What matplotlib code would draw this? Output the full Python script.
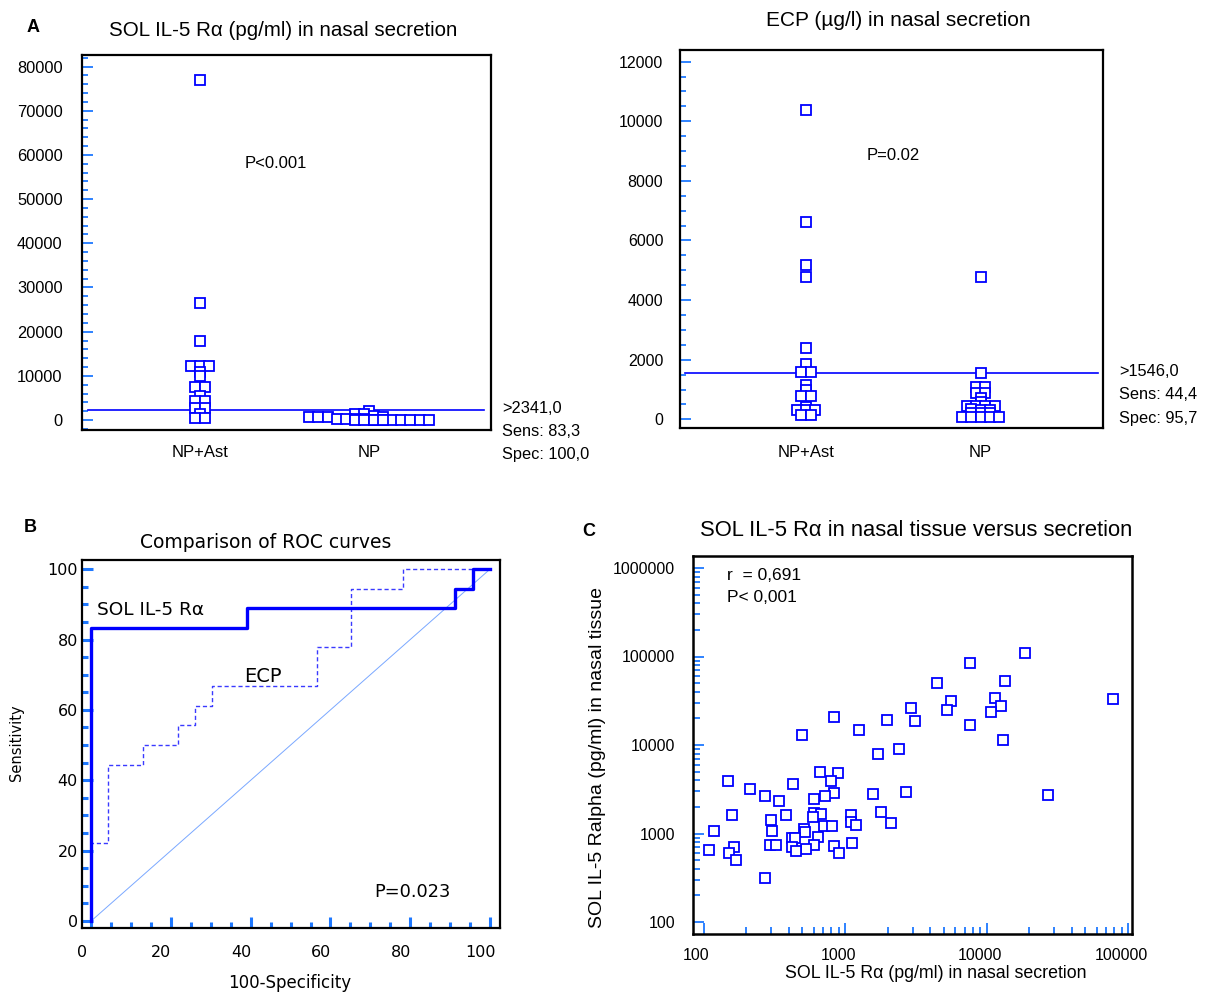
import numpy as np
import matplotlib
matplotlib.use('Agg')
import matplotlib.pyplot as plt
from matplotlib.ticker import MultipleLocator, FixedLocator, NullFormatter, FixedFormatter
import matplotlib.transforms as mtrans

# ---------------- data ----------------
groups = ['NP+Ast', 'NP']

# Panel A: soluble IL-5 Ralpha in nasal secretion (pg/ml)
sol_np_ast = [77000, 26600, 18000, 12300, 12300, 12300, 10800, 10000, 7400, 7400,
              5400, 4400, 4400, 2800, 2800, 1400, 400, 400]
sol_np = [2100, 1400, 1350, 800, 760, 720, 700, 650,
          150, 140, 130, 120, 110, 100, 90, 80, 70, 60, 50, 40, 30, 20, 10]
sol_cutoff = 2341.0
sol_stats = ['>2341,0', 'Sens: 83,3', 'Spec: 100,0']

# Panel A right: ECP in nasal secretion (ug/l)
ecp_np_ast = [10390, 6610, 5170, 4790, 2390, 1870, 1590, 1590, 1150, 1000, 780, 780,
              430, 310, 310, 310, 144, 144]
ecp_np = [4760, 1540, 1094, 1094, 872, 872, 725, 590, 446, 446, 446, 446,
          340, 300, 300, 200, 200, 200, 67, 67, 67, 67, 67]
ecp_cutoff = 1546.0
ecp_stats = ['>1546,0', 'Sens: 44,4', 'Spec: 95,7']

# Panel B: ROC curves (100-specificity, sensitivity)
roc_sol_fpr = [0, 0, 39.1, 91.3, 95.7, 100]
roc_sol_tpr = [0, 83.3, 88.9, 94.4, 100, 100]
roc_ecp_fpr = [0, 0, 4.3, 13.0, 21.7, 26.1, 30.4, 56.5, 65.2, 78.3, 100]
roc_ecp_tpr = [0, 22.2, 44.4, 50.0, 55.6, 61.1, 66.7, 77.8, 94.4, 100, 100]

# Panel C: tissue vs secretion
sec_vals = [18800, 7700, 13500, 4500, 78000, 11500, 5600, 2930, 5250, 12700, 10800,
            836, 1980, 3100, 7700, 1250, 494, 13100, 2390, 1700, 665, 888, 801, 149,
            427, 212, 2720, 836, 1590, 27000, 271, 726, 604, 341,
            158, 385, 607, 681, 591, 1100, 1790, 301, 1100, 1190, 2100, 714, 809, 118,
            306, 511, 521, 641, 425, 446, 293, 325, 1120, 832, 600, 420, 164, 110,
            533, 151, 453, 912, 170, 271]
tis_vals = [110000, 84000, 53000, 50700, 33400, 33600, 31100, 25900, 24900, 27600, 23600,
            20500, 19300, 18700, 16700, 14800, 13000, 11400, 9010, 7830, 4950, 4820, 3940, 3940,
            3580, 3150, 2910, 2870, 2790, 2740, 2620, 2620, 2430, 2320,
            1630, 1630, 1700, 1660, 1530, 1630, 1730, 1430, 1360, 1250, 1310, 1200, 1200, 1080,
            1060, 1120, 1030, 910, 887, 879, 745, 745, 771, 726, 745, 707, 707, 659,
            671, 605, 627, 600, 508, 316]

# ---------------- style ----------------
W, H = 1205, 992
fig = plt.figure(figsize=(W / 100, H / 100), dpi=100)
ARIAL = ['Liberation Sans', 'DejaVu Sans']
WIDE = ['DejaVu Sans']
BLUE = '#0000ff'
TICKC = '#1e78ff'


def add_ax(l, t, r, b):
    return fig.add_axes([l / W, 1 - b / H, (r - l) / W, (b - t) / H])


def box(ax, lw=1.6):
    for s in ax.spines.values():
        s.set_color('black')
        s.set_linewidth(lw)


def swarm(ax, xc, vals, size_px=9.2, tol_px=3.0, ms=6.6):
    vals = np.asarray(vals, float)
    order = np.argsort(-vals, kind='stable')
    pts = ax.transData.transform(np.column_stack([np.full(len(vals), xc), vals]))
    ypx = pts[:, 1]
    x0 = pts[0, 0]
    xs = np.zeros(len(vals))
    grps, cur = [], []
    for i in order:
        if cur and abs(ypx[cur[0]] - ypx[i]) > tol_px:
            grps.append(cur)
            cur = []
        cur.append(i)
    grps.append(cur)
    inv = ax.transData.inverted()
    for g in grps:
        n = len(g)
        for k, i in enumerate(g):
            px = x0 + (k - (n - 1) / 2) * size_px
            xs[i] = inv.transform((px, ypx[i]))[0]
    ax.plot(xs, vals, 's', ms=ms, mfc='white', mec=BLUE, mew=1.3, ls='none', zorder=3)


def shift_labels(labels, dx_px):
    for lab in labels:
        lab.set_transform(lab.get_transform() +
                          mtrans.ScaledTranslation(dx_px / 100, 0, fig.dpi_scale_trans))


# ---------------- Panel A left ----------------
axA = add_ax(82, 55, 491, 430)
box(axA)
axA.set_xlim(0.302, 2.722)
axA.set_ylim(-2260, 82630)
axA.yaxis.set_major_locator(MultipleLocator(10000))
axA.yaxis.set_minor_locator(MultipleLocator(2000))
axA.tick_params(axis='y', which='both', direction='in', colors=TICKC, labelcolor='black',
                labelsize=11.8, pad=14, width=1.3)
axA.tick_params(axis='y', which='major', length=8)
axA.tick_params(axis='y', which='minor', length=4)
axA.set_xticks([1, 2])
axA.set_xticklabels(groups)
axA.tick_params(axis='x', length=0, labelsize=12, pad=11)
for lab in axA.get_xticklabels() + axA.get_yticklabels():
    lab.set_family(ARIAL)
axA.plot([0.34, 2.68], [sol_cutoff, sol_cutoff], color=BLUE, lw=1.2, zorder=2)
swarm(axA, 1, sol_np_ast)
swarm(axA, 2, sol_np)
axA.text(1.45, 58000, 'P<0.001', fontsize=12, family=ARIAL, ha='center', va='center')
fig.text(109 / W, 1 - 30 / H, 'SOL IL-5 R\u03b1 (pg/ml) in nasal secretion', fontsize=14.8,
         family=ARIAL, va='center', ha='left')
fig.text(27 / W, 1 - 28 / H, 'A', fontsize=13, weight='bold', family=ARIAL, va='center')
for i, s in enumerate(sol_stats):
    fig.text(502 / W, 1 - (408 + 23 * i) / H, s, fontsize=11.8, family=ARIAL, va='center')

# ---------------- Panel A right (ECP) ----------------
axE = add_ax(680, 50, 1103, 428)
box(axE)
axE.set_xlim(0.28, 2.70)
axE.set_ylim(-290, 12390)
axE.yaxis.set_major_locator(MultipleLocator(2000))
axE.yaxis.set_minor_locator(MultipleLocator(500))
axE.tick_params(axis='y', which='both', direction='in', colors=TICKC, labelcolor='black',
                labelsize=11.5, pad=12, width=1.3)
axE.tick_params(axis='y', which='major', length=8)
axE.tick_params(axis='y', which='minor', length=4)
axE.set_xticks([1, 2])
axE.set_xticklabels(groups)
axE.tick_params(axis='x', length=0, labelsize=12, pad=12)
for lab in axE.get_xticklabels() + axE.get_yticklabels():
    lab.set_family(ARIAL)
axE.plot([0.31, 2.67], [ecp_cutoff, ecp_cutoff], color=BLUE, lw=1.2, zorder=2)
swarm(axE, 1, ecp_np_ast, size_px=9.3, tol_px=3.0)
swarm(axE, 2, ecp_np, size_px=9.3, tol_px=2.6)
axE.text(1.5, 8850, 'P=0.02', fontsize=12, family=ARIAL, ha='center', va='center')
fig.text(898 / W, 1 - 20 / H, 'ECP (\u00b5g/l) in nasal secretion', fontsize=15,
         family=ARIAL, va='center', ha='center')
for i, s in enumerate(ecp_stats):
    fig.text(1119 / W, 1 - (371 + 23.5 * i) / H, s, fontsize=11.8, family=ARIAL, va='center')

# ---------------- Panel B ----------------
axB = add_ax(82, 560, 500, 928)
box(axB)
axB.set_xlim(-2.3, 102.5)
axB.set_ylim(-2.0, 102.6)
axB.plot([0, 100], [0, 100], color='#7aa8ff', lw=0.7, zorder=1)
axB.plot(roc_ecp_fpr, roc_ecp_tpr, drawstyle='steps-post', color='#3a3aff', lw=1.0,
         ls=(0, (3, 2)), zorder=2)
axB.plot(roc_sol_fpr, roc_sol_tpr, drawstyle='steps-post', color=BLUE, lw=2.4, zorder=3)
for a in (axB.xaxis, axB.yaxis):
    a.set_major_locator(MultipleLocator(20))
    a.set_minor_locator(MultipleLocator(5))
axB.tick_params(which='both', direction='in', colors=TICKC, labelcolor='black',
                labelsize=11.5, width=2.2)
axB.tick_params(which='major', length=8)
axB.tick_params(which='minor', length=4)
axB.tick_params(axis='y', pad=3)
axB.tick_params(axis='x', pad=12)
for lab in axB.get_xticklabels() + axB.get_yticklabels():
    lab.set_family(WIDE)
shift_labels(axB.get_xticklabels(), -9.5)
fig.text(290 / W, 1 - 983 / H, '100-Specificity', fontsize=12, family=WIDE,
         ha='center', va='center')
fig.text(17 / W, 1 - 743 / H, 'Sensitivity', fontsize=10.5, family=WIDE, rotation=90,
         ha='center', va='center')
axB.text(1.5, 88.5, 'SOL IL-5 R\u03b1', fontsize=13.3, family=WIDE, va='center', ha='left')
axB.text(43.0, 69.6, 'ECP', fontsize=14, family=WIDE, va='center', ha='center')
axB.text(80.5, 8.3, 'P=0.023', fontsize=12.8, family=WIDE, va='center', ha='center')
fig.text(266 / W, 1 - 542 / H, 'Comparison of ROC curves', fontsize=13.5, family=WIDE,
         ha='center', va='center')
fig.text(24 / W, 1 - 527 / H, 'B', fontsize=13, weight='bold', family=ARIAL, va='center')

# ---------------- Panel C ----------------
axC = add_ax(693, 556, 1132, 934)
box(axC, lw=1.8)
axC.set_xscale('log')
axC.set_yscale('log')
axC.set_xlim(10 ** (2 - 10.5 / 141.5), 10 ** (5 + 4 / 141.5))
axC.set_ylim(10 ** (2 - 12 / 88.5), 10 ** (6 + 12 / 88.5))
axC.plot(sec_vals, tis_vals, 's', ms=6.8, mfc='white', mec=BLUE, mew=1.3, ls='none')
xdec = [100, 1000, 10000, 100000]
ydec = [100, 1000, 10000, 100000, 1000000]
axC.xaxis.set_major_locator(FixedLocator(xdec))
axC.xaxis.set_major_formatter(FixedFormatter([str(v) for v in xdec]))
axC.yaxis.set_major_locator(FixedLocator(ydec))
axC.yaxis.set_major_formatter(FixedFormatter([str(v) for v in ydec]))
axC.xaxis.set_minor_locator(FixedLocator([m * d for d in [100, 1000, 10000] for m in range(2, 10)]))
axC.yaxis.set_minor_locator(FixedLocator([m * d for d in [100, 1000, 10000, 100000] for m in range(2, 10)]))
axC.xaxis.set_minor_formatter(NullFormatter())
axC.yaxis.set_minor_formatter(NullFormatter())
axC.tick_params(which='both', direction='in', colors=TICKC, labelcolor='black',
                labelsize=11.5, width=1.3)
axC.tick_params(which='major', length=8)
axC.tick_params(which='minor', length=5)
axC.tick_params(axis='y', pad=13)
axC.tick_params(axis='x', pad=10)
for lab in axC.get_xticklabels() + axC.get_yticklabels():
    lab.set_family(ARIAL)
shift_labels(axC.get_xticklabels(), -7)
fig.text(936 / W, 1 - 973 / H, 'SOL IL-5 R\u03b1 (pg/ml) in nasal secretion', fontsize=12.8,
         family=ARIAL, ha='center', va='center')
fig.text(598 / W, 1 - 758 / H, 'SOL IL-5 Ralpha (pg/ml) in nasal tissue', fontsize=14,
         family=ARIAL, rotation=90, ha='center', va='center')
fig.text(727 / W, 1 - 576 / H, 'r  = 0,691', fontsize=12.5, family=ARIAL, va='center')
fig.text(727 / W, 1 - 598 / H, 'P< 0,001', fontsize=12.5, family=ARIAL, va='center')
fig.text(916 / W, 1 - 531 / H, 'SOL IL-5 R\u03b1 in nasal tissue versus secretion', fontsize=15.8,
         family=ARIAL, ha='center', va='center')
fig.text(582 / W, 1 - 531 / H, 'C', fontsize=13, weight='bold', family=ARIAL, va='center')

fig.savefig('out.png', dpi=100)
